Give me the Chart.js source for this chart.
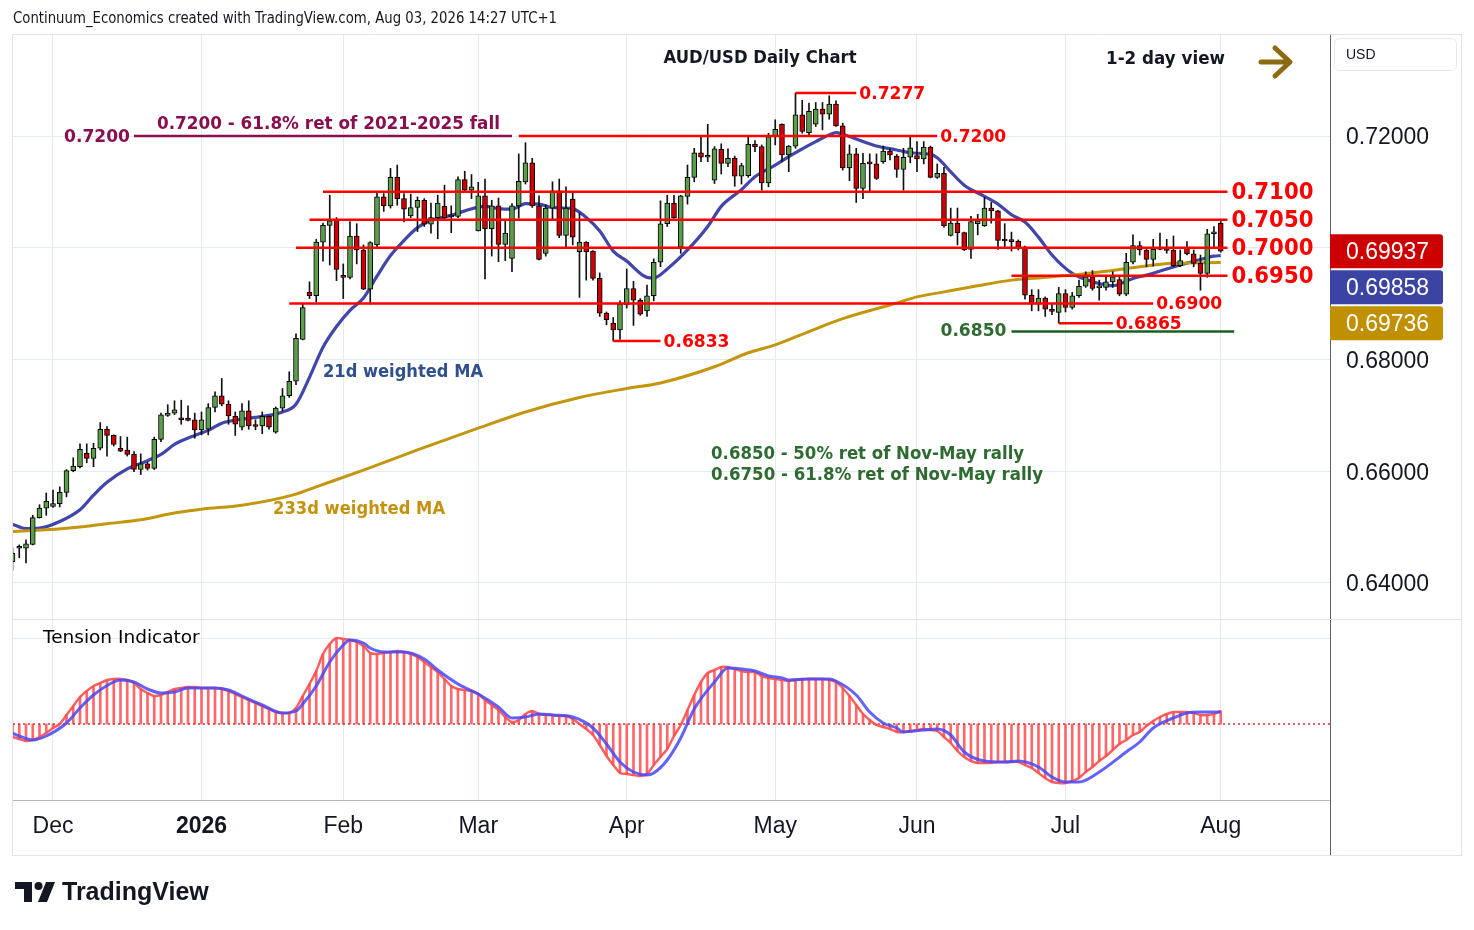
<!DOCTYPE html>
<html>
<head>
<meta charset="utf-8">
<title>AUD/USD Daily Chart</title>
<script src="https://cdn.jsdelivr.net/npm/chart.js@4.4.1/dist/chart.umd.min.js"></script>
<style>
  html, body { margin: 0; padding: 0; background: #fff; }
  body { width: 1474px; height: 930px; position: relative; overflow: hidden; }
  canvas { position: absolute; left: 0; }
  #price { top: 0; width: 1474px; height: 620px; }
  #tension { top: 620px; width: 1474px; height: 310px; }
</style>
</head>
<body>
<canvas id="price" width="1474" height="620"></canvas>
<canvas id="tension" width="1474" height="310"></canvas>
<script>
'use strict';

// AUD/USD daily bars, 21 Nov 2025 .. 3 Aug 2026 (bar index = trading day): open, high, low, close
var ohlc = [
  [0.6438,0.6463,0.6423,0.6453],[0.6462,0.6468,0.6445,0.6464],[0.6462,0.6477,0.6436,0.6470],[0.6469,0.6521,0.6468,0.6517],
  [0.6517,0.6540,0.6516,0.6534],[0.6534,0.6561,0.6521,0.6546],[0.6537,0.6566,0.6535,0.6542],[0.6542,0.6572,0.6536,0.6562],
  [0.6562,0.6603,0.6554,0.6601],[0.6601,0.6624,0.6599,0.6609],[0.6608,0.6649,0.6606,0.6639],[0.6632,0.6649,0.6615,0.6623],
  [0.6623,0.6650,0.6608,0.6641],[0.6641,0.6687,0.6638,0.6675],[0.6675,0.6680,0.6627,0.6664],[0.6664,0.6665,0.6645,0.6648],
  [0.6641,0.6662,0.6635,0.6636],[0.6638,0.6661,0.6627,0.6630],[0.6630,0.6635,0.6599,0.6603],[0.6603,0.6631,0.6594,0.6613],
  [0.6613,0.6616,0.6602,0.6605],[0.6605,0.6661,0.6603,0.6657],[0.6657,0.6704,0.6653,0.6701],[0.6700,0.6719,0.6698,0.6704],
  [0.6704,0.6726,0.6701,0.6710],[0.6694,0.6727,0.6684,0.6692],[0.6692,0.6717,0.6690,0.6691],[0.6692,0.6704,0.6659,0.6674],
  [0.6674,0.6706,0.6665,0.6692],[0.6675,0.6721,0.6665,0.6714],[0.6714,0.6742,0.6706,0.6735],[0.6735,0.6766,0.6717,0.6720],
  [0.6720,0.6726,0.6684,0.6699],[0.6698,0.6706,0.6664,0.6684],[0.6679,0.6721,0.6674,0.6708],[0.6708,0.6726,0.6675,0.6681],
  [0.6681,0.6692,0.6674,0.6680],[0.6681,0.6706,0.6667,0.6698],[0.6698,0.6699,0.6675,0.6679],[0.6670,0.6715,0.6668,0.6713],
  [0.6713,0.6748,0.6708,0.6735],[0.6735,0.6778,0.6732,0.6761],[0.6761,0.6846,0.6755,0.6838],[0.6836,0.6899,0.6835,0.6893],
  [0.6920,0.6939,0.6909,0.6914],[0.6914,0.7015,0.6903,0.7010],[0.7010,0.7044,0.6976,0.7040],[0.7040,0.7094,0.6969,0.7048],
  [0.7050,0.7054,0.6941,0.6961],[0.6949,0.6971,0.6909,0.6947],[0.6947,0.7047,0.6944,0.7021],[0.7021,0.7043,0.6971,0.6996],
  [0.6996,0.7005,0.6925,0.6926],[0.6926,0.7011,0.6899,0.7009],[0.7005,0.7100,0.7002,0.7091],[0.7091,0.7097,0.7065,0.7075],
  [0.7075,0.7142,0.7071,0.7126],[0.7126,0.7148,0.7076,0.7088],[0.7088,0.7097,0.7046,0.7069],[0.7057,0.7096,0.7054,0.7072],
  [0.7072,0.7091,0.7029,0.7085],[0.7085,0.7088,0.7038,0.7042],[0.7042,0.7080,0.7026,0.7054],[0.7054,0.7094,0.7016,0.7080],
  [0.7074,0.7112,0.7050,0.7054],[0.7055,0.7075,0.7027,0.7056],[0.7056,0.7127,0.7054,0.7122],[0.7122,0.7137,0.7100,0.7103],
  [0.7103,0.7131,0.7088,0.7109],[0.7030,0.7117,0.7030,0.7093],[0.7093,0.7123,0.6944,0.7034],[0.7034,0.7085,0.6985,0.7075],
  [0.7075,0.7089,0.6975,0.7006],[0.7006,0.7048,0.6977,0.7026],[0.6981,0.7079,0.6957,0.7075],[0.7075,0.7168,0.7053,0.7119],
  [0.7118,0.7188,0.7114,0.7152],[0.7152,0.7160,0.7072,0.7075],[0.7075,0.7093,0.6978,0.6979],[0.6990,0.7077,0.6985,0.7071],
  [0.7071,0.7118,0.7051,0.7102],[0.7102,0.7123,0.7018,0.7022],[0.7022,0.7109,0.7002,0.7071],[0.7087,0.7100,0.7005,0.7019],
  [0.6993,0.7062,0.6911,0.7010],[0.7010,0.7011,0.6942,0.6993],[0.6994,0.6995,0.6942,0.6945],[0.6945,0.6955,0.6877,0.6883],
  [0.6883,0.6885,0.6862,0.6871],[0.6865,0.6875,0.6833,0.6853],[0.6853,0.6905,0.6836,0.6899],[0.6898,0.6962,0.6892,0.6927],
  [0.6927,0.6940,0.6861,0.6906],[0.6906,0.6909,0.6879,0.6881],[0.6887,0.6933,0.6877,0.6914],[0.6914,0.6980,0.6905,0.6974],
  [0.6974,0.7084,0.6966,0.7043],[0.7043,0.7094,0.7038,0.7080],[0.7080,0.7094,0.7053,0.7054],[0.7001,0.7094,0.6990,0.7093],
  [0.7092,0.7148,0.7078,0.7126],[0.7126,0.7178,0.7118,0.7170],[0.7170,0.7199,0.7154,0.7162],[0.7162,0.7221,0.7154,0.7165],
  [0.7121,0.7181,0.7115,0.7177],[0.7176,0.7186,0.7132,0.7151],[0.7151,0.7177,0.7145,0.7160],[0.7160,0.7164,0.7110,0.7128],
  [0.7128,0.7151,0.7114,0.7147],[0.7129,0.7199,0.7126,0.7185],[0.7185,0.7192,0.7172,0.7181],[0.7181,0.7184,0.7103,0.7116],
  [0.7116,0.7205,0.7109,0.7199],[0.7199,0.7229,0.7184,0.7212],[0.7221,0.7222,0.7154,0.7166],[0.7166,0.7183,0.7136,0.7182],
  [0.7182,0.7277,0.7178,0.7238],[0.7238,0.7264,0.7205,0.7208],[0.7206,0.7259,0.7202,0.7244],[0.7221,0.7260,0.7217,0.7248],
  [0.7248,0.7260,0.7211,0.7239],[0.7239,0.7272,0.7230,0.7257],[0.7257,0.7263,0.7217,0.7218],[0.7218,0.7223,0.7139,0.7143],
  [0.7143,0.7184,0.7120,0.7168],[0.7168,0.7178,0.7081,0.7106],[0.7106,0.7169,0.7088,0.7151],[0.7151,0.7168,0.7102,0.7150],
  [0.7150,0.7168,0.7122,0.7124],[0.7154,0.7182,0.7151,0.7173],[0.7173,0.7177,0.7157,0.7166],[0.7164,0.7167,0.7126,0.7140],
  [0.7140,0.7178,0.7103,0.7162],[0.7162,0.7199,0.7152,0.7179],[0.7165,0.7190,0.7136,0.7159],[0.7159,0.7190,0.7150,0.7180],
  [0.7180,0.7182,0.7125,0.7126],[0.7126,0.7150,0.7124,0.7133],[0.7133,0.7144,0.7037,0.7039],[0.7022,0.7071,0.7021,0.7044],
  [0.7044,0.7071,0.7005,0.7027],[0.7027,0.7028,0.6995,0.6996],[0.6997,0.7056,0.6981,0.7047],[0.7043,0.7060,0.7023,0.7048],
  [0.7039,0.7090,0.7038,0.7071],[0.7071,0.7081,0.7044,0.7066],[0.7066,0.7067,0.6997,0.7013],[0.7013,0.7043,0.7002,0.7012],
  [0.7012,0.7028,0.6994,0.7011],[0.7012,0.7014,0.6996,0.7001],[0.7001,0.7003,0.6908,0.6915],[0.6915,0.6925,0.6887,0.6899],
  [0.6899,0.6925,0.6887,0.6910],[0.6910,0.6912,0.6877,0.6890],[0.6888,0.6901,0.6880,0.6886],[0.6884,0.6929,0.6865,0.6918],
  [0.6918,0.6925,0.6885,0.6893],[0.6893,0.6920,0.6890,0.6914],[0.6914,0.6942,0.6911,0.6931],[0.6931,0.6957,0.6929,0.6948],
  [0.6948,0.6959,0.6924,0.6927],[0.6928,0.6942,0.6906,0.6929],[0.6929,0.6947,0.6924,0.6939],[0.6939,0.6957,0.6929,0.6948],
  [0.6943,0.6948,0.6914,0.6917],[0.6917,0.6990,0.6914,0.6974],[0.6974,0.7023,0.6971,0.7004],[0.7004,0.7011,0.6987,0.6996],
  [0.6996,0.6997,0.6966,0.6979],[0.6979,0.7015,0.6967,0.6997],[0.6997,0.7026,0.6996,0.6998],[0.6998,0.7015,0.6990,0.6995],
  [0.6996,0.7021,0.6966,0.6968],[0.6968,0.6996,0.6966,0.6977],[0.6999,0.7011,0.6987,0.6989],[0.6989,0.6996,0.6966,0.6972],
  [0.6972,0.6987,0.6924,0.6954],[0.6954,0.7033,0.6947,0.7025],[0.7025,0.7038,0.6999,0.7026],[0.7044,0.7047,0.6992,0.69937]
];

// first bar of each month on the time axis
var monthTicks = [6, 28, 49, 69, 91, 113, 134, 156, 179];
var monthLabels = ['Dec', '2026', 'Feb', 'Mar', 'Apr', 'May', 'Jun', 'Jul', 'Aug'];
var priceTicks = [0.64, 0.66, 0.68, 0.70, 0.72];

// weighted moving averages: [bar, value]
var ma21 = [
  [0,0.6505],[2,0.6497],[4,0.6498],[7,0.6510],[10,0.6531],[12,0.6557],[14,0.6580],[17,0.6604],[19,0.6614],
  [22,0.6630],[24,0.6648],[27,0.6664],[29,0.6673],[31,0.6686],[34,0.6693],[37,0.6698],[40,0.6706],[42,0.6720],
  [44,0.6768],[46,0.6822],[48,0.6859],[50,0.6888],[52,0.6910],[54,0.6949],[56,0.6986],[58,0.7013],[60,0.7036],
  [62,0.7049],[65,0.7058],[67,0.7066],[70,0.7074],[72,0.7070],[74,0.7069],[76,0.7079],[78,0.7078],[80,0.7072],
  [83,0.7070],[85,0.7054],[87,0.7030],[89,0.6994],[91,0.6976],[94,0.6947],[95,0.6946],[97,0.6962],[100,0.6996],
  [103,0.7038],[105,0.7074],[108,0.7104],[110,0.7127],[113,0.7148],[115,0.7163],[117,0.7177],[119,0.7190],
  [121,0.7202],[122,0.7206],[123,0.7203],[126,0.7190],[128,0.7182],[131,0.7175],[133,0.7170],[136,0.7167],
  [137,0.7161],[139,0.7136],[141,0.7112],[144,0.7092],[146,0.7078],[148,0.7059],[150,0.7046],[152,0.7019],
  [154,0.6987],[157,0.6954],[159,0.6943],[162,0.6933],[163,0.6932],[166,0.6945],[168,0.6951],[171,0.6962],
  [173,0.6969],[176,0.6979],[178,0.6985],[179,0.69858]
];
var ma233 = [
  [0,0.6492],[5,0.6495],[10,0.6500],[14,0.6506],[19,0.6513],[24,0.6525],[28,0.6532],[34,0.6539],[42,0.6559],
  [45,0.6572],[52,0.6602],[60,0.6638],[69,0.6677],[76,0.6706],[84,0.6732],[91,0.6748],[96,0.6758],[104,0.6787],
  [109,0.6812],[113,0.6826],[118,0.6850],[123,0.6873],[131,0.6901],[134,0.6912],[138,0.6921],[143,0.6932],
  [148,0.6942],[152,0.6946],[157,0.6951],[162,0.6958],[167,0.6966],[172,0.6972],[179,0.69736]
];

// tension indicator, one value per bar
var tension = [
  -13,-15,-17,-16,-13,-9,-4,0,9,18,
  27,33,38,41,44,45,45,44,41,35,
  31,28,29,32,35,36,37,37,36,36,
  36,35,33,30,27,24,21,18,15,12,
  11,11,16,28,40,53,70,80,86,85,
  84,82,78,71,70,71,72,73,72,70,
  67,62,57,52,45,38,35,34,33,30,
  24,19,14,7,2,4,10,13,10,9,
  9,8,8,5,0,-5,-11,-21,-32,-41,
  -49,-50,-51,-52,-50,-41,-33,-25,-12,-1,
  14,29,42,51,54,57,57,55,53,52,
  52,48,46,45,44,43,44,45,45,45,
  45,44,42,36,28,19,10,4,-1,-3,
  -5,-8,-8,-7,-6,-5,-6,-7,-13,-19,
  -27,-33,-37,-39,-39,-39,-38,-38,-38,-38,
  -41,-44,-49,-54,-58,-59,-59,-57,-54,-48,
  -43,-37,-32,-26,-20,-16,-11,-8,-2,3,
  7,10,12,12,12,11,9,9,10,13
];
// signal line of the indicator: [bar, value]
var tensionSignal = [
  [0,-9],[1,-12],[3,-16],[5,-12],[8,1],[10,16],[12,29],[15,42],[16,44],[18,42],[20,35],[22,31],[24,32],
  [26,36],[30,36],[32,34],[34,28],[37,19],[40,11],[42,13],[43,20],[45,38],[47,62],[49,79],[50,84],[52,81],
  [53,76],[55,72],[58,72],[61,65],[63,54],[66,40],[69,30],[72,17],[74,6],[76,7],[78,10],[80,9],[83,7],
  [86,-4],[88,-20],[90,-38],[92,-48],[94,-51],[95,-49],[97,-36],[99,-14],[101,15],[104,42],[106,56],
  [108,55],[110,53],[112,48],[114,46],[115,44],[118,45],[121,45],[122,43],[125,29],[127,12],[129,1],
  [131,-4],[132,-8],[135,-6],[137,-5],[139,-11],[141,-28],[144,-37],[147,-38],[149,-37],[152,-43],
  [154,-53],[156,-58],[158,-58],[161,-48],[165,-28],[167,-18],[169,-4],[172,6],[174,11],[176,12],[179,12]
];

// red support / resistance drawings: value, first bar, last bar, text
var redLevels = [
  [0.7100, 46, 180, '0.7100'],
  [0.7050, 44, 180, '0.7050'],
  [0.7000, 42, 180, '0.7000'],
  [0.6950, 148, 180, '0.6950'],
  [0.6900, 41, 169, '0.6900'],
  [0.6865, 155, 163, '0.6865'],
  [0.6833, 89, 96, '0.6833'],
  [0.7277, 116, 125, '0.7277'],
  [0.7200, 75, 137, '0.7200']
];
var fibPurple = [0.7200, 18, 74];
var fibGreen = [0.6850, 148, 181];
var fibText = '0.7200 - 61.8% ret of 2021-2025 fall';
var rallyNotes = ['0.6850 - 50% ret of Nov-May rally', '0.6750 - 61.8% ret of Nov-May rally'];

var X_MIN = 0.074, X_MAX = 195.19;
var GRID = '#e4eaf1';
var UP = '#5c9d4c', DOWN = '#cc0000', RED = '#ff0000';
var AXIS_LINE = '#5d606b', FRAME = '#e0e3eb';
var FONT = '"DejaVu Sans", sans-serif';
var AXFONT = '"Liberation Sans", Arial, sans-serif';

function label(ctx, s, x, y, font, color, align, maxW) {
  ctx.save();
  ctx.font = font; ctx.fillStyle = color;
  ctx.textAlign = align || 'left'; ctx.textBaseline = 'middle';
  if (maxW) ctx.fillText(s, x, y, maxW); else ctx.fillText(s, x, y);
  ctx.restore();
}
function hline(ctx, x0, x1, y, color) {
  ctx.save(); ctx.strokeStyle = color; ctx.lineWidth = 1;
  ctx.beginPath(); ctx.moveTo(x0, y); ctx.lineTo(x1, y); ctx.stroke(); ctx.restore();
}
function vline(ctx, x, y0, y1, color) {
  ctx.save(); ctx.strokeStyle = color; ctx.lineWidth = 1;
  ctx.beginPath(); ctx.moveTo(x, y0); ctx.lineTo(x, y1); ctx.stroke(); ctx.restore();
}
function seg(level, color, width) {
  return {
    type: 'line', data: [{ x: level[1], y: level[0] }, { x: level[2], y: level[0] }],
    borderColor: color, borderWidth: width, pointRadius: 0, order: 1
  };
}
function xy(pairs) { return pairs.map(function (p) { return { x: p[0], y: p[1] }; }); }
// fixed axis sizes, no extra room for overhanging tick labels
function fixWidth(w) {
  return function (s) { s.width = w; s.paddingTop = 0; s.paddingBottom = 0; s.paddingLeft = 0; s.paddingRight = 0; };
}
function fixHeight(h) {
  return function (s) { s.height = h; s.paddingTop = 0; s.paddingBottom = 0; s.paddingLeft = 0; s.paddingRight = 0; };
}
function monthGrid(s) { s.ticks = monthTicks.map(function (v) { return { value: v }; }); }

// ---------- price pane ----------
var priceOverlay = {
  id: 'priceOverlay',
  afterDatasetsDraw: function (chart) {
    var ctx = chart.ctx, sx = chart.scales.x, sy = chart.scales.y;
    function X(i) { return sx.getPixelForValue(i); }
    function Y(v) { return sy.getPixelForValue(v); }
    redLevels.forEach(function (l) {
      var edge = l[2] >= 180;
      label(ctx, l[3], X(l[2]) + (edge ? 4 : 3), Y(l[0]) + 1,
        'bold ' + (edge ? 23 : 17.5) + 'px ' + FONT, RED, 'left', edge ? 82 : 66);
    });
    // 61.8% retracement drawing
    label(ctx, fibPurple[0].toFixed(4), X(fibPurple[1]) - 4, Y(fibPurple[0]) + 1, 'bold 17.5px ' + FONT, '#880e4f', 'right', 66);
    label(ctx, fibText, X(21.4), Y(0.7221), 'bold 17.5px ' + FONT, '#880e4f', 'left', 343);
    // 50% retracement drawing
    label(ctx, fibGreen[0].toFixed(4), X(fibGreen[1]) - 5, Y(fibGreen[0]), 'bold 17.5px ' + FONT, '#2d6b30', 'right', 66);
    label(ctx, rallyNotes[0], X(103.5), Y(0.6629), 'bold 17px ' + FONT, '#2d6b30', 'left', 313);
    label(ctx, rallyNotes[1], X(103.5), Y(0.6593), 'bold 17px ' + FONT, '#2d6b30', 'left', 332);
    // moving average captions
    label(ctx, '21d weighted MA', X(46), Y(0.6776), 'bold 17px ' + FONT, '#2f4f8f', 'left', 160);
    label(ctx, '233d weighted MA', X(38.6), Y(0.6532), 'bold 17px ' + FONT, '#c4920c', 'left', 172);
  },
  afterDraw: function (chart) {
    var ctx = chart.ctx, sy = chart.scales.y;
    label(ctx, 'Continuum_Economics created with TradingView.com, Aug 03, 2026 14:27 UTC+1', 13, 19,
      '15px ' + FONT, '#131722', 'left', 544);
    label(ctx, 'AUD/USD Daily Chart', 760, 58, 'bold 18px ' + FONT, '#131722', 'center', 193);
    label(ctx, '1-2 day view', 1106, 59, 'bold 18px ' + FONT, '#131722', 'left', 119);
    // arrow
    ctx.save();
    ctx.strokeStyle = '#8b6a12'; ctx.lineWidth = 5; ctx.lineCap = 'round'; ctx.lineJoin = 'round';
    ctx.beginPath(); ctx.moveTo(1261, 62); ctx.lineTo(1288, 62);
    ctx.moveTo(1275, 48); ctx.lineTo(1290, 62); ctx.lineTo(1275, 76); ctx.stroke();
    ctx.restore();
    // currency box
    ctx.save();
    ctx.strokeStyle = '#e6e8ee'; ctx.lineWidth = 1;
    ctx.beginPath(); ctx.roundRect(1334.5, 38.5, 122, 32, 5); ctx.stroke();
    ctx.restore();
    label(ctx, 'USD', 1346, 55, '14px ' + AXFONT, '#131722', 'left');
    // last value tags on the price scale
    var tags = [
      [ohlc[ohlc.length - 1][3], '#cc0000'],
      [ma21[ma21.length - 1][1], '#3b44a3'],
      [ma233[ma233.length - 1][1], '#c09000']
    ];
    var prev = -1e9;
    tags.forEach(function (t) {
      var yc = Math.max(sy.getPixelForValue(t[0]), prev + 36);
      prev = yc;
      ctx.save();
      ctx.fillStyle = t[1];
      ctx.beginPath(); ctx.roundRect(1330, yc - 17, 113, 34, [0, 3, 3, 0]); ctx.fill();
      ctx.restore();
      label(ctx, t[0].toFixed(5), 1346, yc + 1, '23px ' + AXFONT, '#ffffff', 'left', 92);
    });
    // frame
    hline(ctx, 12, 1462, 34.5, FRAME);
    hline(ctx, 12, 1462, 619.5, FRAME);
    vline(ctx, 12.5, 34, 620, FRAME);
    vline(ctx, 1461.5, 34, 620, FRAME);
  }
};

var candleCols = ohlc.map(function (r) { return r[3] >= r[0] ? UP : DOWN; });

var priceSets = [
  { type: 'line', data: xy(ma233), borderColor: '#c4960e', borderWidth: 3, pointRadius: 0,
    cubicInterpolationMode: 'monotone', order: 5 },
  { type: 'line', data: xy(ma21), borderColor: '#4146ab', borderWidth: 3.2, pointRadius: 0,
    cubicInterpolationMode: 'monotone', order: 5 },
  { type: 'bar', data: ohlc.map(function (r, i) { return { x: i, y: [r[2], r[1]] }; }),
    backgroundColor: '#111', borderWidth: 0, barThickness: 1, grouped: false, order: 3 },
  { type: 'bar', data: ohlc.map(function (r, i) { return { x: i, y: [r[0], r[3]] }; }),
    backgroundColor: candleCols, borderColor: '#000', borderWidth: 1, borderSkipped: false,
    barThickness: 5, minBarLength: 2, grouped: false, order: 2 }
];
redLevels.forEach(function (l) { priceSets.push(seg(l, RED, 2.5)); });
priceSets.push(seg(fibPurple, '#880e4f', 2.5));
priceSets.push(seg(fibGreen, '#1b5e20', 2.5));

new Chart(document.getElementById('price'), {
  type: 'line',
  data: { datasets: priceSets },
  plugins: [priceOverlay],
  options: {
    responsive: false, animation: false, devicePixelRatio: 1, events: [],
    layout: { padding: { left: 13, right: 12, top: 35, bottom: 1 } },
    plugins: { legend: { display: false }, tooltip: { enabled: false } },
    scales: {
      x: {
        type: 'linear', min: X_MIN, max: X_MAX, offset: false,
        afterBuildTicks: monthGrid,
        afterFit: fixHeight(0),
        ticks: { display: false },
        grid: { color: GRID, drawTicks: false, offset: false },
        border: { display: false }
      },
      y: {
        type: 'linear', position: 'right', min: 0.63354, max: 0.73808,
        afterBuildTicks: function (s) { s.ticks = priceTicks.map(function (v) { return { value: v }; }); },
        afterFit: fixWidth(132),
        ticks: {
          callback: function (v) { return v.toFixed(5); },
          font: { family: 'Liberation Sans', size: 23 }, color: '#131722', padding: 16, labelOffset: 2
        },
        grid: { color: GRID, drawTicks: false, offset: false },
        border: { display: true, color: AXIS_LINE }
      }
    }
  }
});

// ---------- tension indicator pane ----------
var tensionOverlay = {
  id: 'tensionOverlay',
  afterDraw: function (chart) {
    var ctx = chart.ctx;
    label(ctx, 'Tension Indicator', 43, 18, '18.5px ' + FONT, '#000000', 'left', 160);
    vline(ctx, 1330.5, 180, 235, AXIS_LINE);
    vline(ctx, 12.5, 0, 236, FRAME);
    vline(ctx, 1461.5, 0, 236, FRAME);
    hline(ctx, 12, 1462, 235.5, FRAME);
    // TradingView logo
    ctx.save();
    ctx.fillStyle = '#131722';
    ctx.beginPath();
    ctx.moveTo(15, 262); ctx.lineTo(32, 262); ctx.lineTo(32, 282); ctx.lineTo(24, 282);
    ctx.lineTo(24, 269); ctx.lineTo(15, 269); ctx.closePath(); ctx.fill();
    ctx.beginPath(); ctx.arc(38.5, 266, 4, 0, Math.PI * 2); ctx.fill();
    ctx.beginPath();
    ctx.moveTo(46, 262); ctx.lineTo(55, 262); ctx.lineTo(47, 282); ctx.lineTo(38, 282); ctx.closePath(); ctx.fill();
    ctx.restore();
    label(ctx, 'TradingView', 62, 273, 'bold 25px ' + AXFONT, '#131722', 'left', 151);
  }
};

var tensionPts = tension.map(function (v, i) { return { x: i, y: v }; });

new Chart(document.getElementById('tension'), {
  type: 'line',
  data: {
    datasets: [
      { type: 'line', data: xy(tensionSignal), borderColor: 'rgba(72,72,250,0.85)', borderWidth: 3,
        pointRadius: 0, cubicInterpolationMode: 'monotone', order: 0 },
      { type: 'line', data: tensionPts, borderColor: 'rgba(255,78,78,0.9)', borderWidth: 2.5,
        pointRadius: 0, tension: 0.25, order: 1 },
      { type: 'line', data: [{ x: X_MIN, y: 0 }, { x: X_MAX, y: 0 }], borderColor: '#d83030',
        borderWidth: 1.5, borderDash: [2, 3], pointRadius: 0, order: 2 },
      { type: 'bar', data: tensionPts, backgroundColor: 'rgba(255,78,78,0.85)', borderWidth: 0,
        barThickness: 2, grouped: false, order: 3 }
    ]
  },
  plugins: [tensionOverlay],
  options: {
    responsive: false, animation: false, devicePixelRatio: 1, events: [],
    layout: { padding: { left: 13, right: 12, top: 0, bottom: 75 } },
    plugins: { legend: { display: false }, tooltip: { enabled: false } },
    scales: {
      x: {
        type: 'linear', min: X_MIN, max: X_MAX, offset: false,
        afterBuildTicks: monthGrid,
        afterFit: fixHeight(55),
        ticks: {
          autoSkip: false, maxRotation: 0, padding: 13, color: '#131722',
          callback: function (v) { return monthLabels[monthTicks.indexOf(v)]; },
          font: function (c) {
            return { family: 'Liberation Sans', size: 23, weight: monthLabels[c.index] === '2026' ? 'bold' : 'normal' };
          }
        },
        grid: { color: GRID, drawTicks: false, offset: false },
        border: { display: true, color: '#b2b5be' }
      },
      y: {
        type: 'linear', position: 'right', min: -76, max: 104,
        afterBuildTicks: function (s) { s.ticks = [{ value: 85 }]; },
        afterFit: fixWidth(132),
        ticks: { display: false },
        grid: { color: GRID, drawTicks: false, offset: false },
        border: { display: true, color: AXIS_LINE }
      }
    }
  }
});
</script>
</body>
</html>
